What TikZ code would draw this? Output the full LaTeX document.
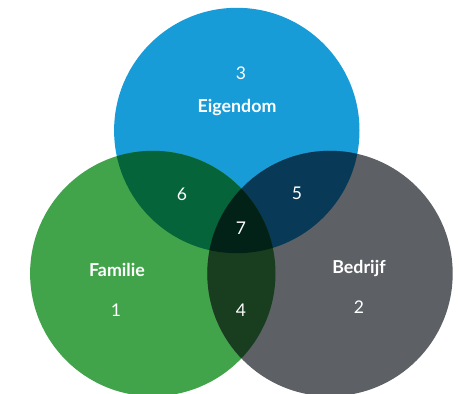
\documentclass[tikz,border=0pt]{standalone}
\usepackage{fontspec}
\setmainfont{Lato}
\definecolor{cblue}{HTML}{189CD8}
\definecolor{cgreen}{HTML}{42A44A}
\definecolor{cgray}{HTML}{5D6166}
\definecolor{cbg}{HTML}{05643A}
\definecolor{cbr}{HTML}{083A58}
\definecolor{cgr}{HTML}{183E1F}
\definecolor{call}{HTML}{022217}
\tikzset{
  num/.style={text=white,font=\fontsize{17.5}{20}\selectfont,inner sep=0pt},
  lbl/.style={text=white,font=\fontsize{17.8}{20}\selectfont\bfseries,inner sep=0pt}
}
\begin{document}
\begin{tikzpicture}[x=1pt,y=-1pt]
\useasboundingbox (0,0) rectangle (459,394);
\fill[white] (0,0) rectangle (459,394);
\coordinate (B) at (236.8,130.5);
\coordinate (G) at (152.8,273.5);
\coordinate (R) at (330,273.5);
\def\rr{122.7pt}
\fill[cblue] (B) circle[radius=\rr];
\fill[cgreen] (G) circle[radius=\rr];
\fill[cgray] (R) circle[radius=\rr];
\begin{scope}
  \clip (B) circle[radius=\rr];
  \fill[cbg] (G) circle[radius=\rr];
  \fill[cbr] (R) circle[radius=\rr];
\end{scope}
\begin{scope}
  \clip (G) circle[radius=\rr];
  \fill[cgr] (R) circle[radius=\rr];
  \clip (R) circle[radius=\rr];
  \fill[call] (B) circle[radius=\rr];
\end{scope}
\node[num] (n3) at (241,73) {3};
\node[lbl] (eig) at (237,107) {Eigendom};
\node[num] (n6) at (182,194) {6};
\node[num] (n5) at (297,193) {5};
\node[num] (n7) at (241,228) {7};
\node[lbl] (fam) at (117,270) {Familie};
\node[num] (n1) at (116,310) {1};
\node[num] (n4) at (241,310) {4};
\node[lbl] (bed) at (359,268) {Bedrijf};
\node[num] (n2) at (359,307) {2};
\end{tikzpicture}
\end{document}
